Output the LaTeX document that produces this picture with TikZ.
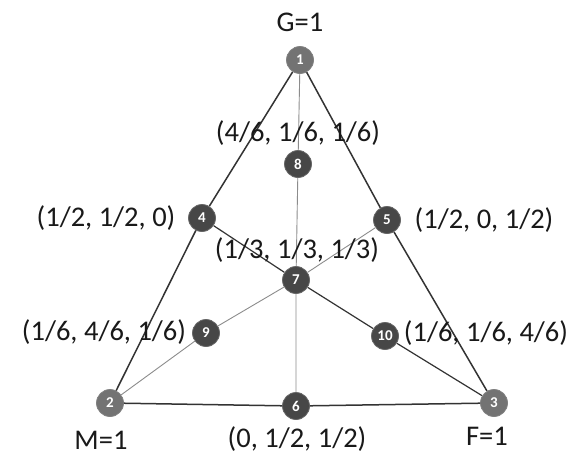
\documentclass[tikz,border=0pt]{standalone}
\usepackage{fontspec}
\setmainfont{Carlito}
\begin{document}
\begin{tikzpicture}[x=1pt,y=-1pt,
  vtx/.style={circle,draw=black!60,line width=0.8pt,fill=black!72,minimum size=27pt,inner sep=0pt,text=white,font=\fontsize{15}{15}\selectfont\bfseries},
  vtxl/.style={vtx,fill=black!55,draw=black!50},
  lbl/.style={font=\fontsize{28.5}{28.5}\selectfont,inner sep=0pt,text=black!90},
  edge/.style={line width=1.5pt,black!80},
  thin/.style={line width=0.9pt,black!45}]
\useasboundingbox (0,0) rectangle (571,456);
\fill[white] (0,0) rectangle (571,456);
\node[vtxl] (n1) at (300,60) {1};
\node[vtxl] (n2) at (110,403) {2};
\node[vtxl] (n3) at (494,403) {3};
\node[vtx] (n4) at (202,218) {4};
\node[vtx] (n5) at (387,220) {5};
\node[vtx] (n6) at (296,406) {6};
\node[vtx] (n7) at (296,280) {7};
\node[vtx] (n8) at (298,164) {8};
\node[vtx] (n9) at (206,333) {9};
\node[vtx] (n10) at (385,336) {10};
\draw[edge] (n1) -- (n4) -- (n2);
\draw[edge] (n1) -- (n5) -- (n3);
\draw[edge] (n2) -- (n6) -- (n3);
\draw[thin] (n1) -- (n8) -- (n7) -- (n6);
\draw[edge,line width=1.2pt] (n4) -- (n7) -- (n10) -- (n3);
\draw[thin] (n5) -- (n7) -- (n9) -- (n2);
\node[lbl] (tG) at (300,22) {G=1};
\node[lbl] (t8) at (298,133) {(4/6, 1/6, 1/6)};
\node[lbl] (t4) at (106,218) {(1/2, 1/2, 0)};
\node[lbl] (t5) at (484,220) {(1/2, 0, 1/2)};
\node[lbl] (t7) at (297,250) {(1/3, 1/3, 1/3)};
\node[lbl] (t9) at (104,332) {(1/6, 4/6, 1/6)};
\node[lbl] (t10) at (486,333) {(1/6, 1/6, 4/6)};
\node[lbl] (tM) at (101,440) {M=1};
\node[lbl] (t6) at (297,439) {(0, 1/2, 1/2)};
\node[lbl] (tF) at (487,436) {F=1};
\end{tikzpicture}
\end{document}
